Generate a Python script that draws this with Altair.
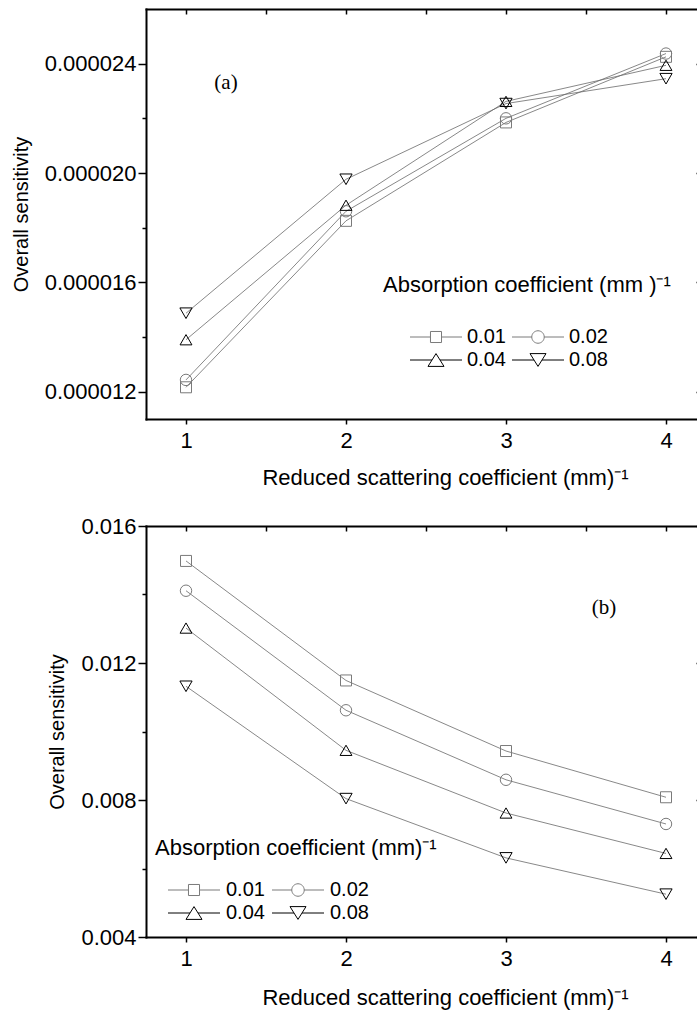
import altair as alt
import pandas as pd

# ---------------- data ----------------
x_vals = [1, 2, 3, 4]
series = ["0.01", "0.02", "0.04", "0.08"]

# panel (a)
a_001 = [12.16e-6, 18.25e-6, 21.85e-6, 24.25e-6]
a_002 = [12.43e-6, 18.60e-6, 22.00e-6, 24.37e-6]
a_004 = [13.90e-6, 18.82e-6, 22.62e-6, 23.94e-6]
a_008 = [14.87e-6, 19.77e-6, 22.54e-6, 23.45e-6]

# panel (b)
b_001 = [0.01498, 0.01149, 0.00943, 0.00808]
b_002 = [0.01411, 0.01062, 0.00859, 0.00730]
b_004 = [0.01302, 0.00945, 0.00762, 0.00644]
b_008 = [0.01132, 0.00804, 0.00631, 0.00525]

x_ticks = [1, 1.5, 2, 2.5, 3, 3.5, 4]
a_major = [12e-6, 16e-6, 20e-6, 24e-6]
a_minor = [14e-6, 18e-6, 22e-6]
b_major = [0.004, 0.008, 0.012, 0.016]
b_minor = [0.006, 0.010, 0.014]

x_title = "Reduced scattering coefficient (mm)\u207b\u00b9"
y_title = "Overall sensitivity"
legend_title_a = "Absorption coefficient (mm )\u207b\u00b9"
legend_title_b = "Absorption coefficient (mm)\u207b\u00b9"

# ---------------- styles ----------------
FONT = "Liberation Sans"
plot_shapes = ["square", "circle", "triangle-up", "triangle-down"]
plot_sizes = [121, 150, 250, 250]
stroke_cols = ["#7a7a7a", "#7a7a7a", "#000000", "#000000"]
stroke_ws = [1.0, 1.0, 1.7, 1.7]
legend_paths = [
    "M-3.25,0H-0.69M0.69,0H3.25M-0.69,-0.69H0.69V0.69H-0.69Z",
    "M-3.25,0H-0.78M0.78,0H3.25M0.78,0A0.78,0.78,0,1,1,-0.78,0A0.78,0.78,0,1,1,0.78,0Z",
    "M-3.25,0H-0.5M0.5,0H3.25M0,-0.8L1,0.8L-1,0.8Z",
    "M-3.25,0H-0.5M0.5,0H3.25M0,0.8L1,-0.8L-1,-0.8Z",
]
legend_ws = [1.0, 1.0, 1.5, 1.5]

PLOT_W = 560
X_MAX = 0.75 + PLOT_W / 160.0


def make_df(vals_list):
    rows = []
    for s, vals in zip(series, vals_list):
        for xv, yv in zip(x_vals, vals):
            rows.append({"x": xv, "y": yv, "series": s})
    return pd.DataFrame(rows)


def panel(df, ydomain, major, minor, fmt, legend_title, title_x, title_y,
          leg_x, leg_y, sym_off, lab_off, label_text, lab_x, lab_y, height,
          x_title_pad, y_title_pad):
    xscale = alt.Scale(domain=[0.75, X_MAX], nice=False, zero=False)
    yscale = alt.Scale(domain=ydomain, nice=False, zero=False)

    bottom_axis = alt.Axis(
        orient="bottom", values=x_ticks, format="d",
        labelExpr="datum.value % 1 == 0 ? datum.label : ''",
        tickSize=5, tickWidth=1.5, tickColor="black",
        domain=True, domainColor="black", domainWidth=2, domainCap="square",
        grid=False,
        labelFont=FONT, labelFontSize=22, labelColor="black", labelPadding=6,
        labelOverlap=False, labelFlush=False,
        title=x_title, titleFont=FONT, titleFontSize=22, titleFontWeight="normal",
        titleColor="black", titlePadding=x_title_pad, titleX=299,
    )
    top_tick_axis = alt.Axis(
        orient="top", offset=-5, values=x_ticks, labels=False, domain=False,
        tickSize=5, tickWidth=1.5, tickColor="black", grid=False, title=None,
    )
    top_border_axis = alt.Axis(
        orient="top", ticks=False, labels=False, domain=True,
        domainColor="black", domainWidth=2, domainCap="square", grid=False,
        title=None,
    )
    left_axis = alt.Axis(
        orient="left", values=major, format=fmt, tickSize=8, tickWidth=1.5,
        tickColor="black", domain=True, domainColor="black", domainWidth=2,
        domainCap="square", grid=False,
        labelFont=FONT, labelFontSize=22, labelColor="black", labelPadding=2,
        labelOverlap=False, labelFlush=False,
        title=y_title, titleFont=FONT, titleFontSize=20, titleFontWeight="normal",
        titleColor="black", titlePadding=y_title_pad,
    )
    minor_axis = alt.Axis(
        orient="left", values=minor, labels=False, tickSize=4, tickWidth=1.5,
        tickColor="black", domain=False, grid=False, title=None,
    )
    right_axis = alt.Axis(
        orient="right", offset=-10, values=major, labels=False, tickSize=10,
        tickWidth=1.5, tickColor="black", domain=False, grid=False, title=None,
    )

    leg = alt.Legend(
        orient="none", legendX=leg_x, legendY=leg_y, columns=2,
        direction="horizontal", padding=0, title=None,
        labelFont=FONT, labelFontSize=20,
        labelColor="black", labelOffset=lab_off, symbolOffset=sym_off,
        symbolSize=256, symbolFillColor="transparent", columnPadding=0,
        rowPadding=3,
    )

    lines = alt.Chart(df).mark_line(color="#6a6a6a", strokeWidth=0.8).encode(
        x=alt.X("x:Q", scale=xscale, axis=bottom_axis),
        y=alt.Y("y:Q", scale=yscale, axis=left_axis),
        detail="series:N",
    )
    points = alt.Chart(df).mark_point(filled=False, opacity=1).encode(
        x=alt.X("x:Q", scale=xscale, axis=top_tick_axis),
        y=alt.Y("y:Q", scale=yscale, axis=minor_axis),
        shape=alt.Shape("series:N", scale=alt.Scale(domain=series, range=plot_shapes), legend=None),
        size=alt.Size("series:N", scale=alt.Scale(domain=series, range=plot_sizes), legend=None),
        stroke=alt.Stroke("series:N", scale=alt.Scale(domain=series, range=stroke_cols), legend=None),
        strokeWidth=alt.StrokeWidth("series:N", scale=alt.Scale(domain=series, range=stroke_ws), legend=None),
    )
    legend_layer = alt.Chart(df).transform_filter("false").mark_point(
        filled=False, opacity=1, size=256
    ).encode(
        x=alt.X("x:Q", scale=xscale, axis=top_border_axis),
        y=alt.Y("y:Q", scale=yscale, axis=right_axis),
        shape=alt.Shape("series:N", scale=alt.Scale(domain=series, range=legend_paths), legend=leg),
        stroke=alt.Stroke("series:N", scale=alt.Scale(domain=series, range=stroke_cols), legend=leg),
        strokeWidth=alt.StrokeWidth("series:N", scale=alt.Scale(domain=series, range=legend_ws), legend=leg),
    )
    label = alt.Chart(pd.DataFrame({"t": [label_text]})).mark_text(
        font="Liberation Serif", fontSize=21, color="black", align="center",
        baseline="middle",
    ).encode(x=alt.value(lab_x), y=alt.value(lab_y), text="t:N")
    leg_title = alt.Chart(pd.DataFrame({"t": [legend_title]})).mark_text(
        font=FONT, fontSize=22, color="black", align="left", baseline="top",
    ).encode(x=alt.value(title_x), y=alt.value(title_y), text="t:N")

    return alt.layer(lines, points, legend_layer, label, leg_title).resolve_scale(
        shape="independent", stroke="independent", strokeWidth="independent",
        size="independent",
    ).resolve_axis(x="independent", y="independent").properties(
        width=PLOT_W, height=height
    )


top = panel(make_df([a_001, a_002, a_004, a_008]), [11e-6, 26e-6], a_major, a_minor,
            ".6f", legend_title_a, 237, 266, 258.5, 318, 21.5, 21,
            "(a)", 80, 74, 410, 16, 13)
bottom = panel(make_df([b_001, b_002, b_004, b_008]), [0.004, 0.016], b_major, b_minor,
               ".3f", legend_title_b, 9, 312, 15.5, 354, 22.5, 22,
               "(b)", 458, 82, 411, 18, 13)

chart = alt.vconcat(top, bottom, spacing=107, bounds="flush").properties(
    padding={"left": 11, "top": 8, "right": -10, "bottom": 4}
).configure(
    background="white",
    view=alt.ViewConfig(stroke="transparent", strokeWidth=0),
)

chart.save("out.html", embed_options={"renderer": "svg", "actions": False})
